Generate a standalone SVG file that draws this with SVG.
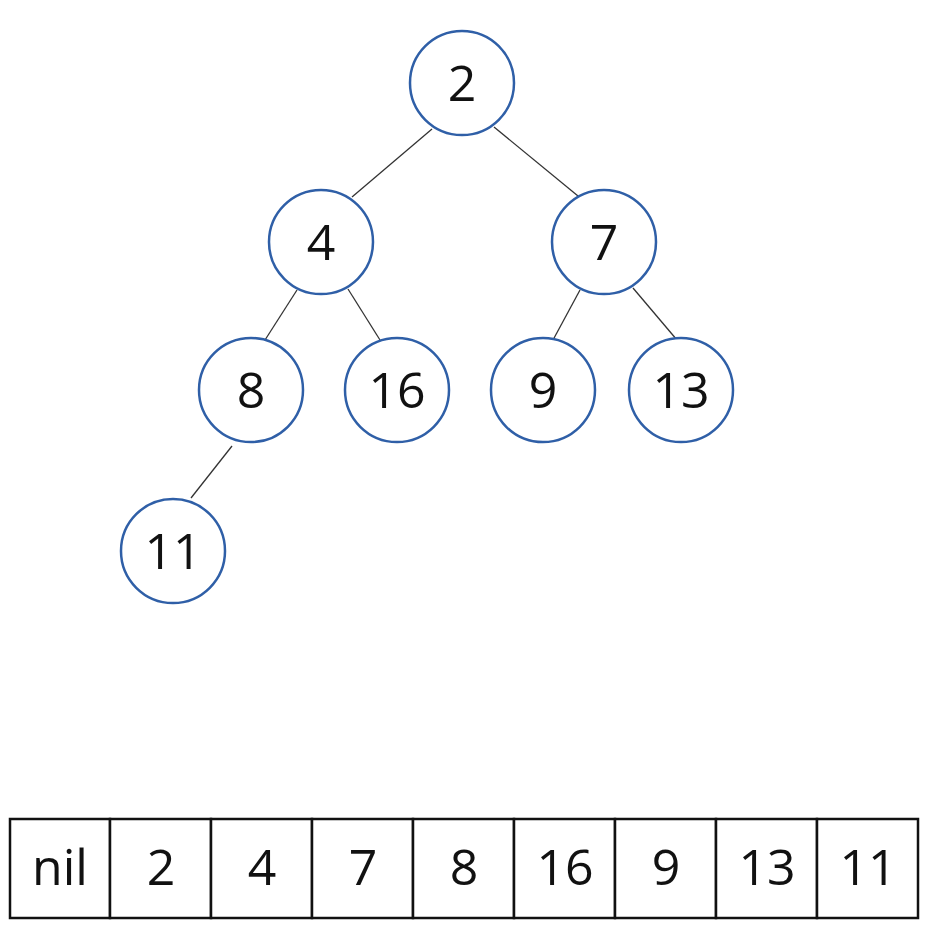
<svg xmlns="http://www.w3.org/2000/svg" width="928" height="926" viewBox="0 0 928 926">
<style>
.n circle{fill:#fff;stroke:#2f5fa7;stroke-width:2.5}
text{font-family:"Open Sans","Noto Sans",sans-serif;font-size:50px;fill:#111;text-anchor:middle}
.e line{stroke:#333;stroke-width:1.3}
.cell{fill:#fff;stroke:#111;stroke-width:2.5}
</style>
<rect width="928" height="926" fill="#fff"/>
<g class="e" id="edges">
<line x1="432" y1="129" x2="352" y2="197"/>
<line x1="494" y1="127" x2="578" y2="196"/>
<line x1="297" y1="290" x2="265" y2="340"/>
<line x1="348" y1="289" x2="380" y2="340"/>
<line x1="580" y1="290" x2="553" y2="340"/>
<line x1="633" y1="288" x2="677" y2="340"/>
<line x1="232" y1="446" x2="191" y2="498"/>
</g>
<g class="n" id="n2"><circle cx="462" cy="83" r="52"/><text x="462" y="101">2</text></g>
<g class="n" id="n4"><circle cx="321" cy="242" r="52"/><text x="321" y="260">4</text></g>
<g class="n" id="n7"><circle cx="604" cy="242" r="52"/><text x="604" y="260">7</text></g>
<g class="n" id="n8"><circle cx="251" cy="390" r="52"/><text x="251" y="408">8</text></g>
<g class="n" id="n16"><circle cx="397" cy="390" r="52"/><text x="397" y="408">16</text></g>
<g class="n" id="n9"><circle cx="543" cy="390" r="52"/><text x="543" y="408">9</text></g>
<g class="n" id="n13"><circle cx="681" cy="390" r="52"/><text x="681" y="408">13</text></g>
<g class="n" id="n11"><circle cx="173" cy="551" r="52"/><text x="173" y="569">11</text></g>
<g id="array">
<rect class="cell" x="10" y="819" width="100" height="99"/>
<rect class="cell" x="110" y="819" width="101" height="99"/>
<rect class="cell" x="211" y="819" width="101" height="99"/>
<rect class="cell" x="312" y="819" width="101" height="99"/>
<rect class="cell" x="413" y="819" width="101" height="99"/>
<rect class="cell" x="514" y="819" width="101" height="99"/>
<rect class="cell" x="615" y="819" width="101" height="99"/>
<rect class="cell" x="716" y="819" width="101" height="99"/>
<rect class="cell" x="817" y="819" width="101" height="99"/>
<text x="60" y="885">nil</text>
<text x="161" y="885">2</text>
<text x="262" y="885">4</text>
<text x="363" y="885">7</text>
<text x="464" y="885">8</text>
<text x="565" y="885">16</text>
<text x="666" y="885">9</text>
<text x="767" y="885">13</text>
<text x="868" y="885">11</text>
</g>
</svg>
